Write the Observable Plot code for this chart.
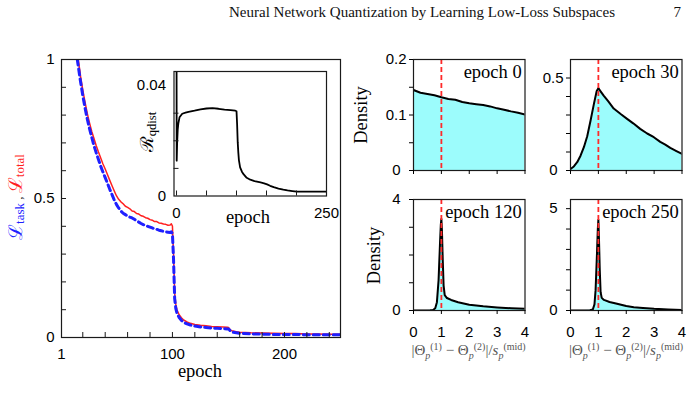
<!DOCTYPE html>
<html>
<head>
<meta charset="utf-8">
<script src="https://cdn.jsdelivr.net/npm/d3@7"></script>
<script src="https://cdn.jsdelivr.net/npm/@observablehq/plot@0.6"></script>
<style>
  html, body { margin: 0; padding: 0; background: #fff; }
  #page { position: relative; width: 700px; height: 406px; overflow: hidden; background: #fff; }
  #page > svg { position: absolute; }
</style>
</head>
<body>
<div id="page"></div>
<script>
// ---- Loss curves (left panel) ----
const lossEpoch = [10, 14, 16, 18, 20, 22, 24, 26, 28, 30, 32, 34, 36, 38, 40, 42, 44, 46, 48, 50,
  52, 54, 56, 58, 60, 62, 64, 66, 68, 70, 72, 74, 76, 78, 80, 82, 84, 86, 88, 90,
  92, 94, 96, 98, 99, 100, 101, 102, 103, 104, 106, 108, 110, 113, 116, 120, 125, 130, 135, 140,
  145, 149, 150, 151, 152, 154, 157, 160, 170, 180, 190, 200, 210, 220, 230, 240, 250];
const lossTotal = [1.22, 1.06, 1.0, 0.94, 0.89, 0.847, 0.806, 0.772, 0.741, 0.716, 0.69, 0.667, 0.646, 0.624, 0.606, 0.586, 0.566, 0.547, 0.528, 0.51,
  0.497, 0.488, 0.481, 0.472, 0.468, 0.463, 0.455, 0.453, 0.446, 0.444, 0.438, 0.436, 0.431, 0.429, 0.424, 0.422, 0.417, 0.417, 0.412, 0.411,
  0.408, 0.407, 0.404, 0.405, 0.409, 0.401, 0.30, 0.16, 0.12, 0.10, 0.082, 0.071, 0.063, 0.056, 0.051, 0.047, 0.044, 0.042, 0.040, 0.039,
  0.038, 0.037, 0.036, 0.031, 0.026, 0.023, 0.021, 0.019, 0.017, 0.016, 0.015, 0.014, 0.014, 0.013, 0.013, 0.012, 0.012];
const lossTask = [1.18, 1.03, 0.975, 0.92, 0.87, 0.826, 0.786, 0.751, 0.72, 0.69, 0.664, 0.64, 0.616, 0.595, 0.575, 0.555, 0.534, 0.515, 0.495, 0.479,
  0.466, 0.455, 0.447, 0.442, 0.437, 0.433, 0.43, 0.425, 0.42, 0.415, 0.41, 0.406, 0.403, 0.4, 0.397, 0.394, 0.391, 0.389, 0.386, 0.384,
  0.382, 0.38, 0.379, 0.378, 0.38, 0.374, 0.28, 0.14, 0.105, 0.088, 0.072, 0.062, 0.055, 0.049, 0.045, 0.041, 0.038, 0.036, 0.034, 0.033,
  0.032, 0.031, 0.031, 0.027, 0.022, 0.019, 0.017, 0.015, 0.013, 0.012, 0.011, 0.011, 0.011, 0.01, 0.01, 0.01, 0.01];
const lossXTicks = [20, 40, 60, 80, 100, 120, 140, 160, 180, 200, 220, 240];
const lossXLabels = [1, 100, 200];
const lossYTicks = [0, 0.1, 0.2, 0.3, 0.4, 0.5, 0.6, 0.7, 0.8, 0.9, 1];
const lossYLabels = [0, 0.5, 1];

// ---- Quantization-distance regulariser (inset) ----
const qEpoch = [0, 0.3, 1, 2, 3, 5, 9.5, 15, 20, 30, 40, 50, 60, 70, 80, 90, 98, 100,
  101, 102, 103, 104, 106, 109, 112, 117, 123, 130, 140, 146,
  151, 156, 162, 170, 178, 185, 193, 201, 220, 250];
const qVal = [0.06, 0.0128, 0.019, 0.024, 0.0262, 0.0285, 0.0298, 0.0302, 0.0305, 0.0309, 0.0314, 0.0317, 0.0318, 0.0316, 0.0313, 0.0311, 0.0309, 0.0307,
  0.026, 0.0195, 0.0158, 0.013, 0.0104, 0.0088, 0.0078, 0.0066, 0.0059, 0.0054, 0.0049, 0.0046,
  0.0042, 0.0037, 0.0032, 0.0027, 0.0023, 0.002, 0.0018, 0.0016, 0.0016, 0.0016];
const qXTicks = [0, 50, 100, 150, 200];
const qXLabels = [0, 250];
const qYTicks = [0.01, 0.02, 0.03];
const qYLabels = [0, 0.04];

// ---- Histograms of |Θ(1) − Θ(2)| / s(mid) ----
const densTitles = ["epoch 0", "epoch 30", "epoch 120", "epoch 250"];
const densX0 = [0, 0.25, 0.5, 0.75, 1, 1.25, 1.5, 1.75, 2, 2.25, 2.5, 2.75, 3, 3.25, 3.5, 3.75, 4];
const densY0 = [0.145, 0.140, 0.138, 0.1355, 0.132, 0.129, 0.1275, 0.1235, 0.121, 0.1195, 0.118, 0.1155, 0.112, 0.1095, 0.1065, 0.104, 0.101];
const densX30 = [0, 0.12, 0.24, 0.36, 0.48, 0.6, 0.72, 0.84, 0.94, 1.0, 1.06, 1.19, 1.35, 1.55, 1.8, 2.03, 2.25, 2.5, 2.75, 2.99, 3.22, 3.4, 3.58, 3.8, 4];
const densY30 = [0.008, 0.022, 0.045, 0.08, 0.126, 0.185, 0.27, 0.36, 0.43, 0.445, 0.432, 0.405, 0.375, 0.335, 0.305, 0.279, 0.255, 0.225, 0.2, 0.18, 0.155, 0.14, 0.122, 0.105, 0.09];
const densX120 = [0, 0.3, 0.5, 0.6, 0.7, 0.78, 0.84, 0.9, 0.95, 0.98, 1.0, 1.02, 1.05, 1.08, 1.12, 1.2, 1.35, 1.6, 2, 2.5, 3, 3.5, 4];
const densY120 = [0, 0, 0.003, 0.008, 0.02, 0.08, 0.3, 1.1, 2.4, 3.1, 3.3, 2.9, 1.8, 0.9, 0.55, 0.45, 0.38, 0.3, 0.21, 0.15, 0.11, 0.08, 0.06];
const densX250 = [0, 0.5, 0.7, 0.8, 0.86, 0.9, 0.95, 0.98, 1.0, 1.02, 1.05, 1.08, 1.12, 1.2, 1.4, 1.67, 2, 2.27, 2.6, 3, 3.5, 4];
const densY250 = [0, 0, 0.01, 0.05, 0.3, 1.0, 2.8, 4.0, 4.45, 3.6, 2.0, 0.9, 0.62, 0.52, 0.42, 0.33, 0.22, 0.16, 0.12, 0.08, 0.05, 0.03];
const densXTicks = [0, 1, 2, 3, 4];

const SANS = "'Liberation Sans', Arial, Helvetica, sans-serif";
const SERIF = "'Liberation Serif', 'Times New Roman', 'DejaVu Serif', serif";
const RED = "#ff1f1f";
const BLUE = "#1f1fff";
const CYAN = "#9cfcfc";
const FRAME = "#1a1a1a";
const num = (d) => String(d);

const page = document.getElementById("page");
const baseStyle = {background: "transparent", overflow: "visible", fontFamily: SANS, fontSize: "15px", color: "#000", maxWidth: "none"};

function place(svg, left, top) {
  svg.style.left = left + "px";
  svg.style.top = top + "px";
  page.appendChild(svg);
}

// ---- Left panel: task and total loss ----
const lossRows = lossEpoch.map((e, i) => ({epoch: e, total: lossTotal[i], task: lossTask[i]}));
place(Plot.plot({
  width: 350, height: 406,
  marginLeft: 61, marginRight: 10, marginTop: 59, marginBottom: 69,
  x: {domain: [1, 250], label: null},
  y: {domain: [0, 1], label: null},
  style: baseStyle,
  marks: [
    Plot.line(lossRows, {x: "epoch", y: "total", stroke: RED, strokeWidth: 1.5, clip: true}),
    Plot.line(lossRows, {x: "epoch", y: "task", stroke: BLUE, strokeWidth: 3, strokeDasharray: "6,4", clip: true}),
    Plot.frame({stroke: FRAME, strokeWidth: 1.2}),
    Plot.axisX({ticks: lossXTicks, tickSize: -5, tickFormat: () => "", label: null, stroke: FRAME}),
    Plot.axisX({ticks: lossXLabels, tickSize: 0, tickPadding: 11, tickFormat: num, label: null}),
    Plot.axisY({ticks: lossYTicks, tickSize: -5, tickFormat: () => "", label: null, stroke: FRAME}),
    Plot.axisY({ticks: lossYLabels, tickSize: 0, tickPadding: 7, tickFormat: num, label: null})
  ]
}), 0, 0);

// ---- Inset: R_qdist over training ----
const qRows = qEpoch.map((e, i) => ({epoch: e, r: qVal[i]}));
place(Plot.plot({
  width: 220, height: 180,
  marginLeft: 53.5, marginRight: 14, marginTop: 21, marginBottom: 34.5,
  x: {domain: [-4.2, 250], label: null},
  y: {domain: [0, 0.0451], label: null},
  style: baseStyle,
  marks: [
    Plot.line(qRows, {x: "epoch", y: "r", stroke: "#000", strokeWidth: 1.8, clip: true}),
    Plot.frame({stroke: FRAME, strokeWidth: 1.2}),
    Plot.axisX({ticks: qXTicks, tickSize: -5, tickFormat: () => "", label: null, stroke: FRAME}),
    Plot.axisX({ticks: qXLabels, tickSize: 0, tickPadding: 11, tickFormat: num, label: null}),
    Plot.axisY({ticks: qYTicks, tickSize: -5, tickFormat: () => "", label: null, stroke: FRAME}),
    Plot.axisY({ticks: qYLabels, tickSize: 0, tickPadding: 8, tickFormat: num, label: null})
  ]
}), 120, 50);

// ---- Right panels: density histograms ----
function densityPanel(o) {
  const ML = 60, MR = 12, MT = 20, MB = 60;
  const w = o.right - o.left, h = o.bottom - o.top;
  const rows = o.xs.map((x, i) => ({x, d: o.ys[i]}));
  const marks = [
    Plot.areaY(rows, {x: "x", y: "d", fill: CYAN, clip: true}),
    Plot.lineY(rows, {x: "x", y: "d", stroke: "#000", strokeWidth: 2, clip: true}),
    Plot.ruleX([1], {stroke: "#ff2a2a", strokeWidth: 1.8, strokeDasharray: "5,3"}),
    Plot.frame({stroke: FRAME, strokeWidth: 1.2}),
    Plot.axisX({ticks: densXTicks, tickSize: 4, tickPadding: 12, label: null,
      tickFormat: o.xLabels ? num : () => ""}),
    Plot.axisY({ticks: o.yTicks, tickSize: 4, tickFormat: () => "", label: null}),
    Plot.axisY({ticks: o.yFar, tickSize: 0, tickPadding: 13, tickFormat: num, label: null}),
    Plot.text([o.title], {text: (d) => d, frameAnchor: "top-right", dx: -3.3, dy: 12.4,
      textAnchor: "end", lineAnchor: "middle", fontFamily: SERIF, fontSize: 18.5, fill: "#000"})
  ];
  if (o.yNear.length) marks.push(Plot.axisY({ticks: o.yNear, tickSize: 0, tickPadding: 7, tickFormat: num, label: null}));
  place(Plot.plot({
    width: w + ML + MR, height: h + MT + MB,
    marginLeft: ML, marginRight: MR, marginTop: MT, marginBottom: MB,
    x: {domain: [0, 4], label: null},
    y: {domain: [0, o.yMax], label: null},
    style: baseStyle,
    marks
  }), o.left - ML, o.top - MT);
}

densityPanel({title: densTitles[0], xs: densX0, ys: densY0, yMax: 0.2,
  yTicks: [0, 0.05, 0.1, 0.15, 0.2], yNear: [0.1, 0.2], yFar: [0], xLabels: false,
  left: 412.5, right: 524, top: 59, bottom: 170});
densityPanel({title: densTitles[1], xs: densX30, ys: densY30, yMax: 0.6,
  yTicks: [0, 0.1, 0.2, 0.3, 0.4, 0.5], yNear: [0.5], yFar: [0], xLabels: false,
  left: 570, right: 681.5, top: 59, bottom: 170});
densityPanel({title: densTitles[2], xs: densX120, ys: densY120, yMax: 4,
  yTicks: [0, 1, 2, 3, 4], yNear: [], yFar: [0, 4], xLabels: true,
  left: 412.5, right: 524, top: 199, bottom: 310});
densityPanel({title: densTitles[3], xs: densX250, ys: densY250, yMax: 5.45,
  yTicks: [0, 1, 2, 3, 4, 5], yNear: [], yFar: [0, 5], xLabels: true,
  left: 570, right: 681.5, top: 199, bottom: 310});

// ---- Titles and math labels ----
const ov = d3.select(page).append("svg")
  .attr("width", 700).attr("height", 406)
  .style("left", "0px").style("top", "0px").style("pointer-events", "none");

ov.append("text").attr("x", 229).attr("y", 17)
  .attr("font-family", SERIF).attr("font-size", 15).attr("fill", "#111")
  .attr("textLength", 386).attr("lengthAdjust", "spacingAndGlyphs")
  .text("Neural Network Quantization by Learning Low-Loss Subspaces");
ov.append("text").attr("x", 681).attr("y", 17).attr("text-anchor", "end")
  .attr("font-family", SERIF).attr("font-size", 15).attr("fill", "#111").text("7");

// loss axis title: L_task , L_total
const yl = ov.append("text").attr("transform", "translate(21.5,197) rotate(-90)")
  .attr("text-anchor", "middle").attr("font-family", SERIF);
yl.append("tspan").attr("fill", BLUE).attr("font-size", 19).text("ℒ");
yl.append("tspan").attr("fill", BLUE).attr("font-size", 13).attr("dy", 2.5).text("task");
yl.append("tspan").attr("fill", "#333").attr("font-size", 13).attr("dy", -2.5).text(" , ");
yl.append("tspan").attr("fill", RED).attr("font-size", 19).text("ℒ");
yl.append("tspan").attr("fill", RED).attr("font-size", 13).attr("dy", 2.5).text("total");

ov.append("text").attr("x", 200).attr("y", 377).attr("text-anchor", "middle")
  .attr("font-family", SERIF).attr("font-size", 18.5).text("epoch");
ov.append("text").attr("x", 248).attr("y", 222.5).attr("text-anchor", "middle")
  .attr("font-family", SERIF).attr("font-size", 18.5).text("epoch");

// inset axis title: R_qdist
const rl = ov.append("text").attr("transform", "translate(153,132) rotate(-90)")
  .attr("text-anchor", "middle").attr("font-family", SERIF);
rl.append("tspan").attr("font-size", 18).text("ℛ");
rl.append("tspan").attr("font-size", 12.5).attr("dy", 2.5).text("qdist");

// density axis titles
[[366.5, 115], [379.5, 255.5]].forEach(([x, y]) => {
  ov.append("text").attr("transform", `translate(${x},${y}) rotate(-90)`)
    .attr("text-anchor", "middle").attr("font-family", SERIF).attr("font-size", 18.5).text("Density");
});

// |Θp(1) − Θp(2)| / sp(mid)
function thetaLabel(cx, baseline) {
  const t = ov.append("text").attr("x", cx).attr("y", baseline).attr("text-anchor", "middle")
    .attr("font-family", SERIF).attr("font-size", 15).attr("fill", "#555");
  const big = (s, dy, italic) => t.append("tspan").attr("font-size", 15).attr("dy", dy)
    .attr("font-style", italic ? "italic" : "normal").text(s);
  const small = (s, dy, italic) => t.append("tspan").attr("font-size", 10).attr("dy", dy)
    .attr("font-style", italic ? "italic" : "normal").text(s);
  big("|Θ", 0);
  small("p", 3.5, true);
  small("(1)", -9);
  big(" − Θ", 5.5);
  small("p", 3.5, true);
  small("(2)", -9);
  big("|/", 5.5);
  big("s", 0, true);
  small("p", 3.5, true);
  small("(mid)", -9);
}
thetaLabel(468.5, 355);
thetaLabel(626, 355);
</script>
</body>
</html>
